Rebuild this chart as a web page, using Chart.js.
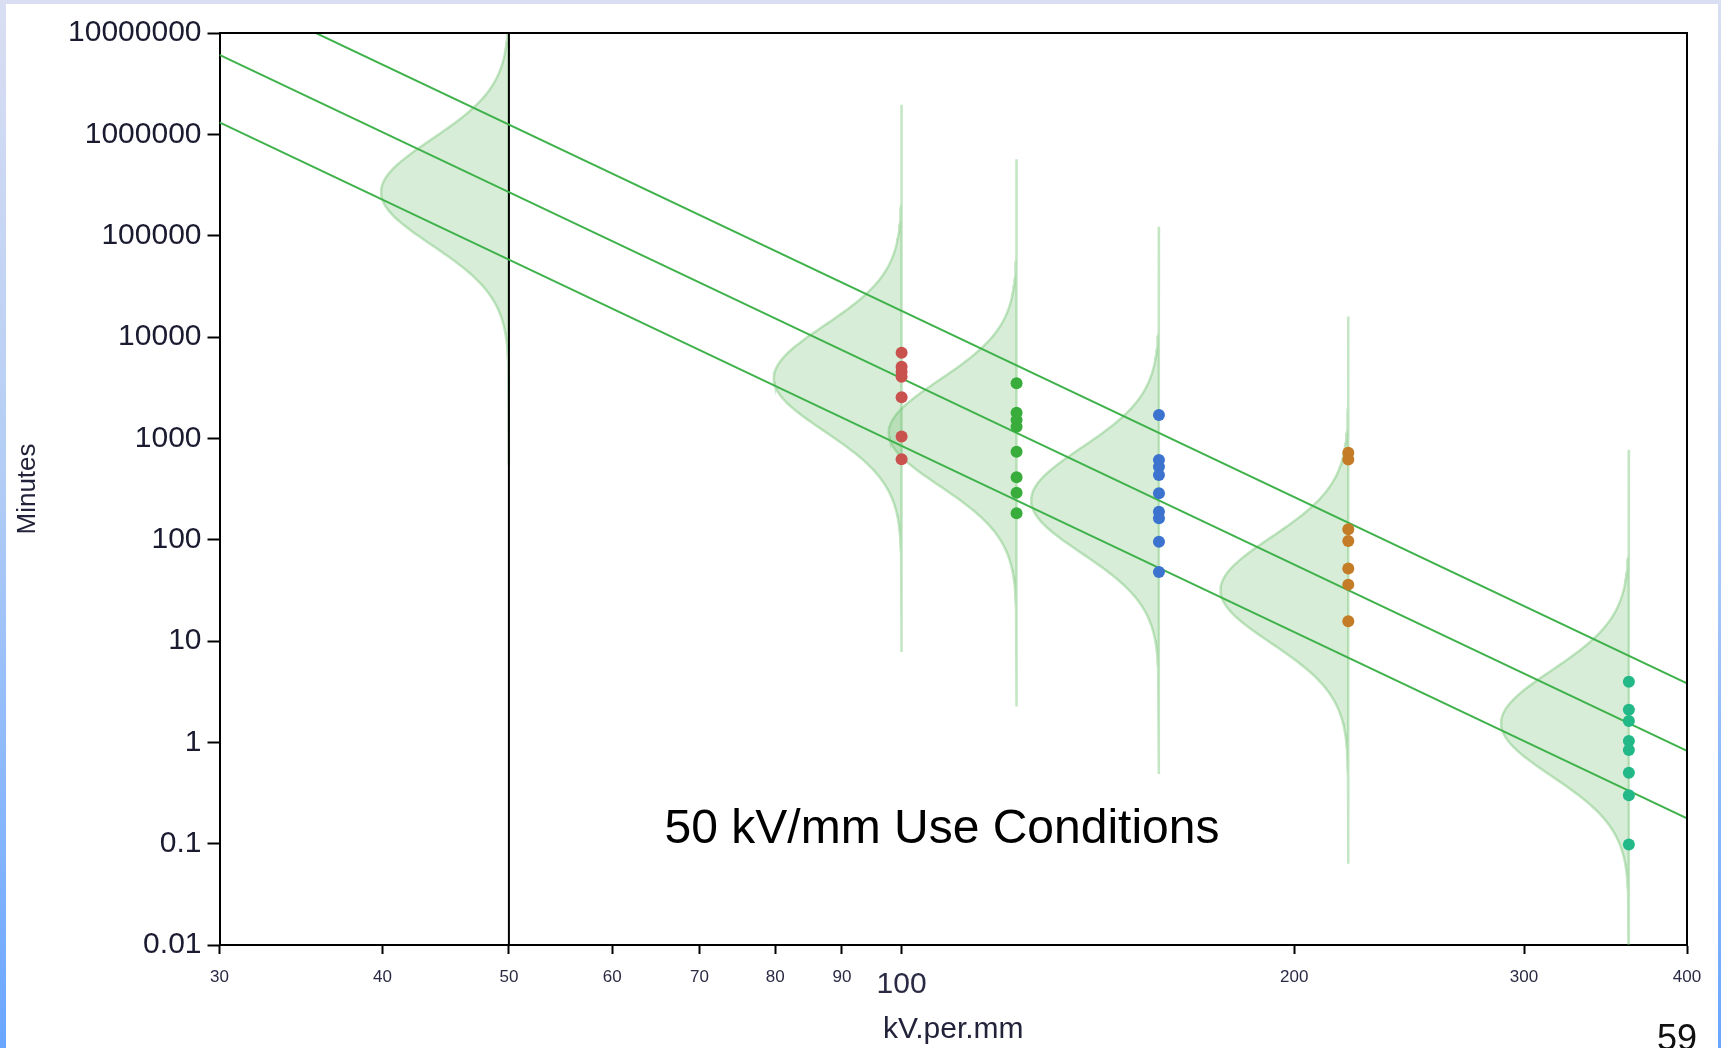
<!DOCTYPE html>
<html>
<head>
<meta charset="utf-8">
<script src="https://cdn.jsdelivr.net/npm/chart.js@4/dist/chart.umd.min.js"></script>
<style>
  html, body { margin: 0; padding: 0; width: 1721px; height: 1048px; overflow: hidden; }
  body { position: relative; background: linear-gradient(to bottom, #d9def2 0%, #b3cdf5 45%, #6aa6ff 100%); }
  #panel { position: absolute; left: 6px; top: 4px; width: 1712px; height: 1044px; background: #ffffff; }
  #wrap { position: absolute; left: 0; top: 0; width: 1721px; height: 1048px; }
  #slide { position: absolute; left: 1657px; top: 1020px; font: 36px 'Liberation Sans', Arial, sans-serif; line-height: 1; color: #111; }
</style>
</head>
<body>
<div id="panel"></div>
<div id="wrap"><canvas id="c" width="1721" height="1048"></canvas></div>
<div id="slide">59</div>
<script>
// ---------------- data ----------------
const stressLevels = [100, 122.5, 157.5, 220, 361];          // kV/mm test levels
const minutesAt100 = [7000, 5090, 4550, 4050, 2540, 1040, 621];
const minutesAt122 = [3490, 1790, 1520, 1300, 738, 412, 290, 182];
const minutesAt157 = [1700, 611, 525, 435, 287, 189, 163, 95.5, 48];
const minutesAt220 = [720, 618, 127, 97, 52, 36, 15.7];
const minutesAt361 = [3.97, 2.10, 1.62, 1.03, 0.84, 0.50, 0.30, 0.098];
const pointColors = ['#c9524f', '#38ad3c', '#3b73cf', '#c47c26', '#22b888'];

const useLevel = 50;                                          // kV/mm use conditions
const violinLevels = [50, 100, 122.5, 157.5, 220, 361];

// fitted inverse-power-law / lognormal model: log10(minutes) = a + b*log10(kV)
const fitIntercept = 15.802;
const fitSlope = -6.105;
const fitSigma = 0.52;                 // decades
const quantileZ = [1.2816, 0, -1.2816]; // 90%, 50%, 10% lines
const lineRangeKV = [30, 400];
const violinHalfWidthDecades = 0.098;  // width of density at its peak (log10 kV units)
const violinTailDecades = 2.7;

const xTicks = [30, 40, 50, 60, 70, 80, 90, 100, 200, 300, 400];
const yTicks = [0.01, 0.1, 1, 10, 100, 1000, 10000, 100000, 1000000, 10000000];
const yTickLabels = ['0.01', '0.1', '1', '10', '100', '1000', '10000', '100000', '1000000', '10000000'];

const annotationText = '50 kV/mm Use Conditions';
const annotationKV = 107.4;
const annotationMinutes = 0.101;

// ---------------- build datasets ----------------
const FONT = "'Liberation Sans', Arial, sans-serif";
const NARROW = "'Liberation Sans Narrow', 'Liberation Sans', Arial, sans-serif";

function medianLog(kv) { return fitIntercept + fitSlope * Math.log10(kv); }

function violinPoints(kv) {
  const mu = medianLog(kv);
  const tailZ = violinTailDecades / fitSigma;
  const pts = [];
  const n = 160;
  for (let i = 0; i <= n; i++) {
    const z = tailZ - 2 * tailZ * i / n;
    const w = violinHalfWidthDecades * Math.exp(-z * z / 2);
    pts.push({ x: kv * Math.pow(10, -w), y: Math.pow(10, mu + z * fitSigma) });
  }
  pts.push({ x: kv, y: Math.pow(10, mu - tailZ * fitSigma) });
  pts.push({ x: kv, y: Math.pow(10, mu + tailZ * fitSigma) });
  return pts;
}

const datasets = [];
const dotSeries = [minutesAt100, minutesAt122, minutesAt157, minutesAt220, minutesAt361];
dotSeries.forEach((arr, i) => {
  datasets.push({
    data: arr.map(v => ({ x: stressLevels[i], y: v })),
    showLine: false,
    pointRadius: 6,
    pointBackgroundColor: pointColors[i],
    pointBorderWidth: 0,
    order: 0
  });
});
quantileZ.forEach(z => {
  datasets.push({
    data: lineRangeKV.map(kv => ({ x: kv, y: Math.pow(10, medianLog(kv) + z * fitSigma) })),
    borderColor: '#3fb24c',
    borderWidth: 2,
    pointRadius: 0,
    fill: false,
    order: 1
  });
});
datasets.push({
  data: [{ x: useLevel, y: yTicks[0] }, { x: useLevel, y: yTicks[yTicks.length - 1] }],
  borderColor: '#000000',
  borderWidth: 2,
  pointRadius: 0,
  fill: false,
  order: 2
});
violinLevels.forEach(kv => {
  datasets.push({
    data: violinPoints(kv),
    borderColor: 'rgba(100,188,100,0.38)',
    borderWidth: 2.5,
    backgroundColor: 'rgba(95,185,95,0.25)',
    fill: 'shape',
    pointRadius: 0,
    order: 3
  });
});

const framePlugin = {
  id: 'frame',
  afterDatasetsDraw(chart) {
    const { ctx, chartArea: a, scales } = chart;
    ctx.save();
    ctx.strokeStyle = '#000';
    ctx.lineWidth = 2;
    ctx.beginPath();
    ctx.moveTo(a.left, a.top);
    ctx.lineTo(a.right, a.top);
    ctx.lineTo(a.right, a.bottom);
    ctx.stroke();
    // annotation text
    ctx.fillStyle = '#000';
    ctx.font = '48px ' + FONT;
    ctx.textAlign = 'center';
    ctx.textBaseline = 'alphabetic';
    ctx.fillText(annotationText, scales.x.getPixelForValue(annotationKV), scales.y.getPixelForValue(annotationMinutes));
    ctx.restore();
  }
};

new Chart(document.getElementById('c'), {
  type: 'line',
  data: { datasets },
  options: {
    responsive: false,
    animation: false,
    events: [],
    layout: { padding: { top: 33, right: 34, left: 0, bottom: 0 } },
    plugins: { legend: { display: false }, tooltip: { enabled: false } },
    scales: {
      x: {
        type: 'logarithmic',
        min: 30, max: 400,
        afterBuildTicks: s => { s.ticks = xTicks.map(v => ({ value: v })); },
        afterFit: s => { s.height = 103; },
        grid: { drawOnChartArea: false, drawTicks: true, tickLength: 9, tickColor: '#000', tickWidth: 2 },
        border: { display: true, color: '#000', width: 2 },
        ticks: {
          autoSkip: false, maxRotation: 0, minRotation: 0, padding: 13, color: '#2a2a44',
          font: c => (c.tick && c.tick.value === 100) ? { family: FONT, size: 30 } : { family: NARROW, size: 17 },
          callback: v => String(v)
        },
        title: { display: true, text: 'kV.per.mm', color: '#22223a', font: { family: FONT, size: 30 }, padding: { top: 0, bottom: 0 } }
      },
      y: {
        type: 'logarithmic',
        min: 0.01, max: 10000000,
        afterBuildTicks: s => { s.ticks = yTicks.map(v => ({ value: v })); },
        afterFit: s => { s.width = 219.5; },
        grid: { drawOnChartArea: false, drawTicks: true, tickLength: 12, tickColor: '#000', tickWidth: 2 },
        border: { display: true, color: '#000', width: 2 },
        ticks: { autoSkip: false, padding: 6, color: '#1a1a30', font: { family: FONT, size: 30 }, callback: (v, i) => yTickLabels[i] },
        title: { display: true, text: 'Minutes', color: '#22223a', font: { family: FONT, size: 26 }, padding: { top: 12, bottom: 0 } }
      }
    }
  },
  plugins: [framePlugin]
});
</script>
</body>
</html>
